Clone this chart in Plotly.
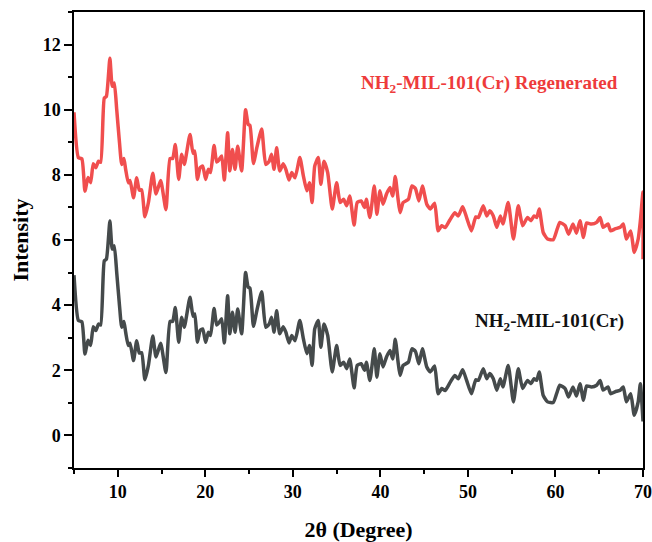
import plotly.graph_objects as go

two_theta = [5.0, 5.5, 5.9, 6.25, 6.6, 6.9, 7.2, 7.5, 7.8, 8.05, 8.46, 8.7, 9.1, 9.37, 9.6, 9.88,
             10.2, 10.45, 10.7, 10.9, 11.2, 11.4, 11.8, 12.16, 12.46, 12.73, 13.1, 13.5, 14.0, 14.37,
             14.9, 15.5, 15.97, 16.27, 16.57, 16.96, 17.3, 17.6, 18.25, 18.6, 18.8, 19.1, 19.4, 19.7,
             20.04, 20.35, 20.6, 21.0, 21.3, 21.56, 21.87, 22.17, 22.55, 22.8, 23.1, 23.4, 23.7, 24.15,
             24.6, 24.9, 25.1, 25.5, 25.9, 26.44, 26.9, 27.3, 27.57, 27.85, 28.15, 28.5, 28.9, 29.2,
             29.56, 29.87, 30.25, 30.8, 31.2, 31.6, 31.9, 32.2, 32.5, 32.9, 33.2, 33.56, 33.98, 34.5,
             35.0, 35.4, 35.8, 36.15, 36.5, 37.0, 37.35, 37.8, 38.2, 38.4, 38.8, 39.3, 39.6, 39.95,
             40.3, 40.7, 41.1, 41.4, 41.7, 42.0, 42.25, 42.6, 43.2, 43.6, 44.0, 44.4, 44.8, 45.3,
             45.7, 46.2, 46.6, 47.0, 47.4, 47.95, 48.5, 48.9, 49.4, 49.85, 50.4, 50.9, 51.2, 51.75,
             52.15, 52.5, 52.9, 53.3, 53.7, 54.0, 54.6, 55.2, 55.75, 56.25, 56.8, 57.2, 57.55, 57.85,
             58.15, 58.6, 59.1, 59.75, 60.2, 60.5, 61.1, 61.5, 62.0, 62.4, 62.8, 63.2, 63.55, 64.1,
             64.7, 65.1, 65.45, 66.0, 66.3, 66.8, 67.4, 67.75, 68.1, 68.6, 69.0, 69.45, 69.7, 70.0]

intensity_pristine = [4.92, 3.53, 3.49, 2.5, 2.92, 2.76, 3.34, 3.22, 3.42, 3.39, 5.36, 5.41, 6.58, 5.72, 5.82, 5.0,
                      3.98, 3.32, 3.5, 3.17, 2.76, 2.83, 2.3, 2.91, 2.53, 2.54, 1.71, 2.15, 3.05, 2.41,
                      2.83, 1.93, 3.5, 3.5, 3.93, 2.86, 3.63, 3.32, 4.24, 3.66, 3.73, 2.86, 3.22, 3.27,
                      2.86, 3.17, 3.07, 3.9, 3.39, 3.46, 3.58, 2.84, 4.29, 3.12, 3.78, 3.17, 3.88, 3.12,
                      5.0, 4.55, 4.52, 3.35, 3.85, 4.41, 3.32, 3.42, 3.63, 3.17, 3.83, 3.12, 3.34, 3.17,
                      2.84, 3.07, 2.91, 3.53, 2.97, 2.51, 2.76, 2.15, 3.27, 3.53, 2.71, 3.42, 3.07, 1.95,
                      2.76, 2.15, 2.25, 2.05, 2.35, 1.46, 2.15, 2.2, 2.0, 2.25, 1.69, 2.66, 1.79, 2.51,
                      2.1, 2.41, 2.61, 2.35, 2.95, 2.3, 1.84, 2.15, 2.25, 2.66, 2.58, 2.2, 2.66, 2.1,
                      1.95, 2.13, 1.28, 1.44, 1.38, 1.62, 1.84, 1.74, 2.02, 1.69, 1.28, 1.71, 1.69, 2.05,
                      1.74, 1.9, 1.74, 1.39, 1.74, 1.49, 2.15, 1.03, 2.05, 1.44, 1.69, 1.59, 1.74, 1.69,
                      1.95, 1.23, 1.03, 1.01, 1.34, 1.54, 1.44, 1.18, 1.49, 1.21, 1.59, 1.08, 1.52, 1.49,
                      1.54, 1.69, 1.39, 1.49, 1.28, 1.34, 1.39, 1.49, 1.03, 1.28, 0.62, 1.03, 1.59, 0.43]

intensity_regen = [9.92, 8.53, 8.49, 7.5, 7.92, 7.76, 8.34, 8.22, 8.42, 8.39, 10.36, 10.41, 11.58, 10.72, 10.82, 10.0,
                   8.98, 8.32, 8.5, 8.17, 7.76, 7.83, 7.3, 7.91, 7.53, 7.54, 6.71, 7.15, 8.05, 7.41,
                   7.83, 6.93, 8.5, 8.5, 8.93, 7.86, 8.63, 8.32, 9.24, 8.66, 8.73, 7.86, 8.22, 8.27,
                   7.86, 8.17, 8.07, 8.9, 8.39, 8.46, 8.58, 7.84, 9.29, 8.12, 8.78, 8.17, 8.88, 8.12,
                   10.0, 9.55, 9.52, 8.35, 8.85, 9.41, 8.32, 8.42, 8.63, 8.17, 8.83, 8.12, 8.34, 8.17,
                   7.84, 8.07, 7.91, 8.53, 7.97, 7.51, 7.76, 7.15, 8.27, 8.53, 7.71, 8.42, 8.07, 6.95,
                   7.76, 7.15, 7.25, 7.05, 7.35, 6.46, 7.15, 7.2, 7.0, 7.25, 6.69, 7.66, 6.79, 7.51,
                   7.1, 7.41, 7.61, 7.35, 7.95, 7.3, 6.84, 7.15, 7.25, 7.66, 7.58, 7.2, 7.66, 7.1,
                   6.95, 7.13, 6.28, 6.44, 6.38, 6.62, 6.84, 6.74, 7.02, 6.69, 6.28, 6.71, 6.69, 7.05,
                   6.74, 6.9, 6.74, 6.39, 6.74, 6.49, 7.15, 6.03, 7.05, 6.44, 6.69, 6.59, 6.74, 6.69,
                   6.95, 6.23, 6.03, 6.01, 6.34, 6.54, 6.44, 6.18, 6.49, 6.21, 6.59, 6.08, 6.52, 6.49,
                   6.54, 6.69, 6.39, 6.49, 6.28, 6.34, 6.39, 6.49, 6.03, 6.28, 5.62, 6.03, 6.59, 7.47]
regen_tail_x = [70.0]
regen_tail_y = [5.41]

x_ticks = [10, 20, 30, 40, 50, 60, 70]
y_ticks = [0, 2, 4, 6, 8, 10, 12]

label_regen = "NH<sub>2</sub>-MIL-101(Cr) Regenerated"
label_pristine = "NH<sub>2</sub>-MIL-101(Cr)"

FONT = "Liberation Serif"
RED = "#F04E4E"
DARK = "#454A4B"

L, R, T, B = 74, 9, 12, 74
W, H = 652, 542
pw, ph = W - L - R, H - T - B

def px_to_paper(px, py):
    return (px - L) / pw, 1 - (py - T) / ph

fig = go.Figure()
fig.add_trace(go.Scatter(x=two_theta, y=intensity_pristine, mode="lines",
                         line=dict(color=DARK, width=3.5, shape="spline", smoothing=0.5),
                         showlegend=False, cliponaxis=True))
fig.add_trace(go.Scatter(x=two_theta + regen_tail_x, y=intensity_regen + regen_tail_y, mode="lines",
                         line=dict(color=RED, width=3.5, shape="spline", smoothing=0.5),
                         showlegend=False, cliponaxis=True))

ax, ay = px_to_paper(489, 84)
fig.add_annotation(x=ax, y=ay, xref="paper", yref="paper", xanchor="center", yanchor="middle",
                   text="<b>" + label_regen + "</b>", showarrow=False,
                   font=dict(family=FONT, size=19, color="#EE3B3B"))
bx, by = px_to_paper(549, 322)
fig.add_annotation(x=bx, y=by, xref="paper", yref="paper", xanchor="center", yanchor="middle",
                   text="<b>" + label_pristine + "</b>", showarrow=False,
                   font=dict(family=FONT, size=19, color="#111111"))

fig.update_layout(
    width=W, height=H,
    margin=dict(l=L, r=R, t=T, b=B, autoexpand=False),
    paper_bgcolor="white", plot_bgcolor="white",
    font=dict(family=FONT, color="black"),
)
fig.update_xaxes(
    range=[5, 70], tickmode="array", tickvals=x_ticks, automargin=False,
    ticks="outside", ticklen=7, tickwidth=1.5, tickcolor="black",
    minor=dict(tickvals=[5, 15, 25, 35, 45, 55, 65], ticks="outside", ticklen=4, tickwidth=1.5, tickcolor="black"),
    showline=True, linecolor="black", linewidth=1.5, mirror=True, showgrid=False, zeroline=False,
    tickfont=dict(family=FONT, size=18, color="black", weight="bold"),
    title=dict(text="<b>2θ (Degree)</b>", font=dict(family=FONT, size=22, color="black"), standoff=31),
)
fig.update_yaxes(
    range=[-1, 13], tickmode="array", tickvals=y_ticks, automargin=False,
    ticks="outside", ticklen=8, tickwidth=1.5, tickcolor="black",
    minor=dict(tickvals=[-1, 1, 3, 5, 7, 9, 11, 13], ticks="outside", ticklen=4, tickwidth=1.5, tickcolor="black"),
    showline=True, linecolor="black", linewidth=1.5, mirror=True, showgrid=False, zeroline=False,
    tickfont=dict(family=FONT, size=18, color="black", weight="bold"),
    title=dict(text="<b>Intensity</b>", font=dict(family=FONT, size=22, color="black"), standoff=8),
)

fig.write_html("out.html")
